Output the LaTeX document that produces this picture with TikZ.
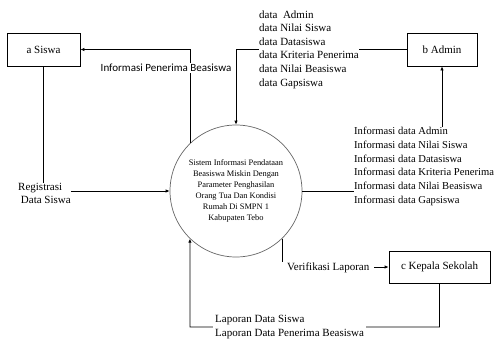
\documentclass[tikz,border=0pt]{standalone}
\usepackage{fontspec}
\setmainfont{Liberation Serif}
\newfontfamily\calfont{Carlito}
\usetikzlibrary{arrows.meta,calc}
\begin{document}
\begin{tikzpicture}[x=1pt,y=-1pt,
  ent/.style={draw,line width=0.8pt,inner sep=0pt,font=\rmfamily\fontsize{11}{13}\selectfont},
  proc/.style={draw=black!60,line width=0.7pt,circle,minimum size=132pt,inner sep=0pt,align=center,font=\rmfamily\fontsize{8.4}{11}\selectfont},
  txt/.style={inner sep=0pt,align=left,font=\rmfamily\fontsize{11}{13.6}\selectfont},
  lbl/.style={fill=white,inner ysep=1pt,font=\rmfamily\fontsize{11}{13.6}\selectfont,align=left},
  flow/.style={line width=0.8pt},
  arr/.style={line width=0.8pt,-{Latex[length=4pt,width=3.5pt]}}]
\useasboundingbox (0,0) rectangle (497,340);
\node[ent,minimum width=73pt,minimum height=33pt] (siswa) at (43.5,49.5) {a Siswa};
\node[ent,minimum width=70pt,minimum height=33pt] (admin) at (442,49.5) {b Admin};
\node[ent,minimum width=101pt,minimum height=32pt] (kepala) at (439.5,267) {c Kepala Sekolah};
\node[proc] (P) at (236,191) {Sistem Informasi Pendataan\\Beasiswa Miskin Dengan\\Parameter Penghasilan\\Orang Tua Dan Kondisi\\Rumah Di SMPN 1\\Kabupaten Tebo};
\node[txt,anchor=west] (dataT) at (259,49.5) {data\ \ Admin\\data Nilai Siswa\\data Datasiswa\\data Kriteria Penerima\\data Nilai Beasiswa\\data Gapsiswa};
\node[txt,anchor=west,font=\rmfamily\fontsize{10.6}{13.7}\selectfont] (infoT) at (354,166.5) {Informasi data Admin\\Informasi data Nilai Siswa\\Informasi data Datasiswa\\Informasi data Kriteria Penerima\\Informasi data Nilai Beasiswa\\Informasi data Gapsiswa};
\node[txt,anchor=west,font=\rmfamily\fontsize{11}{13}\selectfont] (reg) at (18,193.5) {Registrasi\\\ Data Siswa};
\coordinate (lb) at (190,327);
% connectors
\draw[arr] (P.134) |- (siswa.east);
\draw[flow] (admin.west) -- (dataT.east |- admin.west);
\draw[arr] (dataT.west |- admin.west) -| (P.north);
\draw[flow] (P.east) -- (P.east -| infoT.west);
\draw[arr] (infoT.north -| admin.south) -- (admin.south);
\draw[flow] (siswa.south) -- (siswa.south |- reg.north);
\draw[arr] (reg.east |- P.west) -- (P.west);
\draw[arr] (P.314) |- (kepala.west);
\draw[arr] (kepala.south) |- (lb) -- (P.226);
% labels over lines
\node[lbl,font=\calfont\fontsize{11}{13}\selectfont] (ipb) at (166,68) {Informasi Penerima Beasiswa};
\node[lbl,anchor=west,inner xsep=5pt] (ver) at (282,268) {Verifikasi Laporan};
\node[lbl,anchor=west,inner xsep=2pt] (lap) at (213,327) {Laporan Data Siswa\\Laporan Data Penerima Beasiswa};
\end{tikzpicture}
\end{document}
